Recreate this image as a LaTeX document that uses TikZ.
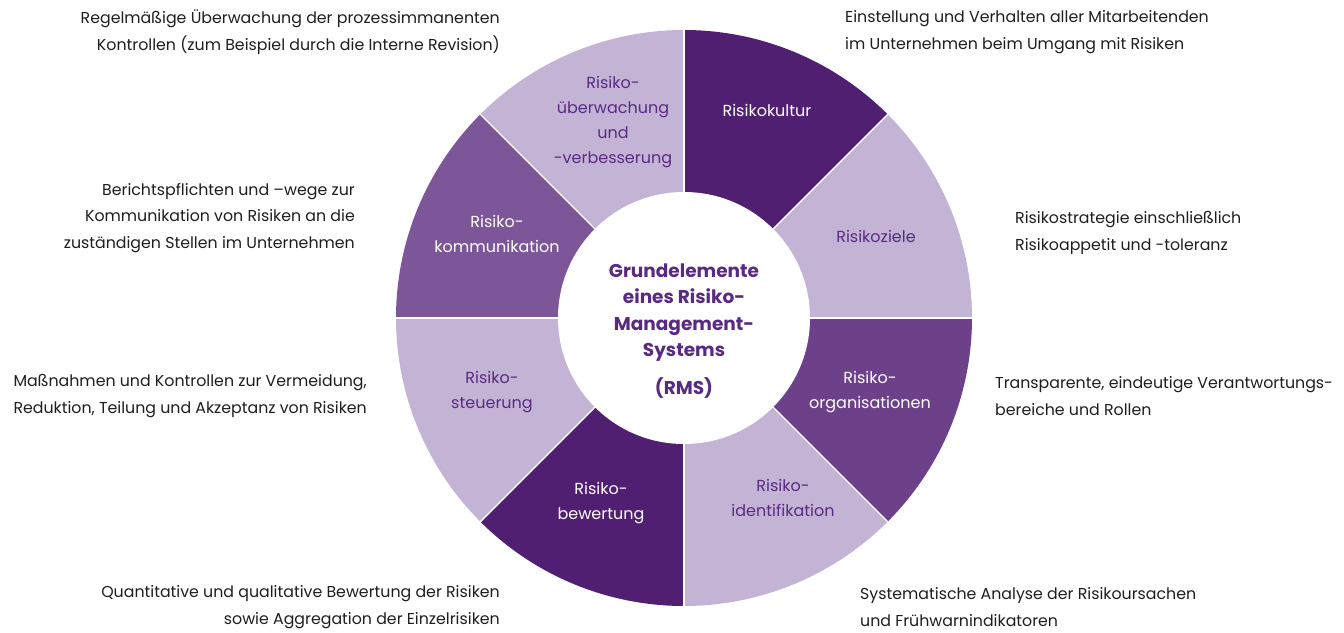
\documentclass[tikz,border=0pt]{standalone}
\usepackage{fontspec}
\setmainfont{Poppins}
\usetikzlibrary{positioning}

\definecolor{rmsdark}{HTML}{511F72}
\definecolor{rmsmid}{HTML}{7D5699}
\definecolor{rmsorg}{HTML}{6D418A}
\definecolor{rmslight}{HTML}{C3B4D6}
\definecolor{rmstext}{HTML}{5A2A82}
\definecolor{desctext}{HTML}{1E1E1E}

\tikzset{
  seglabel/.style={
    align=center, inner sep=0pt,
    font=\fontsize{16}{25}\selectfont,
    text=rmstext
  },
  seglabel dark/.style={seglabel, text=white},
  desc/.style={
    inner sep=0pt,
    font=\fontsize{15.8}{26.5}\selectfont,
    text=desctext
  },
  desc left/.style={desc, align=left, anchor=west},
  desc right/.style={desc, align=right, anchor=east}
}

\begin{document}
\begin{tikzpicture}[x=1pt, y=1pt]
  \useasboundingbox (0,0) rectangle (1344,-632);
  \coordinate (c) at (684,-318);

  % ring segments, start angle / colour
  \foreach \a/\col in {45/rmsdark, 0/rmslight, -45/rmsorg, -90/rmslight,
                       -135/rmsdark, -180/rmslight, 135/rmsmid, 90/rmslight}
    \fill[\col] (c) -- ++(\a:288) arc[start angle=\a, delta angle=45, radius=288] -- cycle;

  % white gaps between segments
  \foreach \a in {0,45,...,315}
    \draw[white, line width=1.4pt] (c) -- ++(\a:289);

  % hole in the middle
  \fill[white] (c) circle[radius=126];

  \node[align=center, inner sep=0pt, text=rmstext,
        font=\fontsize{18.5}{26.5}\selectfont\bfseries] (rms) at (684,-331)
    {Grundelemente\\eines Risiko-\\Management-\\Systems\\[11pt](RMS)};

  % segment labels
  \node[seglabel dark] (kultur)  at (767,-110) {Risikokultur};
  \node[seglabel] (ziele)        at (876,-236) {Risikoziele};
  \node[seglabel dark] (orga)    at (870,-392) {Risiko-\\organisationen};
  \node[seglabel] (ident)        at (783,-498) {Risiko-\\identifikation};
  \node[seglabel dark] (bewert)  at (601,-503) {Risiko-\\bewertung};
  \node[seglabel] (steuer)       at (492,-392) {Risiko-\\steuerung};
  \node[seglabel dark] (komm)    at (497,-234) {Risiko-\\kommunikation};
  \node[seglabel] (ueberw)       at (613,-122) {Risiko-\\überwachung\\und\\-verbesserung};

  % descriptions around the ring
  \node[desc right] (d-ueberw) at (500,-32)
    {Regelmäßige Überwachung der prozessimmanenten\\Kontrollen (zum Beispiel durch die Interne Revision)};
  \node[desc left] (d-kultur) at (845,-32)
    {Einstellung und Verhalten aller Mitarbeitenden\\im Unternehmen beim Umgang mit Risiken};
  \node[desc right] (d-komm) at (355,-218)
    {Berichtspflichten und –wege zur\\Kommunikation von Risiken an die\\zuständigen Stellen im Unternehmen};
  \node[desc left] (d-ziele) at (1015,-233)
    {Risikostrategie einschließlich\\Risikoappetit und -toleranz};
  \node[desc right] (d-steuer) at (367,-396)
    {Maßnahmen und Kontrollen zur Vermeidung,\\Reduktion, Teilung und Akzeptanz von Risiken};
  \node[desc left] (d-orga) at (995,-396)
    {Transparente, eindeutige Verantwortungs-\\bereiche und Rollen};
  \node[desc right] (d-bewert) at (500,-607)
    {Quantitative und qualitative Bewertung der Risiken\\sowie Aggregation der Einzelrisiken};
  \node[desc left] (d-ident) at (860,-607)
    {Systematische Analyse der Risikoursachen\\und Frühwarnindikatoren};
\end{tikzpicture}
\end{document}
